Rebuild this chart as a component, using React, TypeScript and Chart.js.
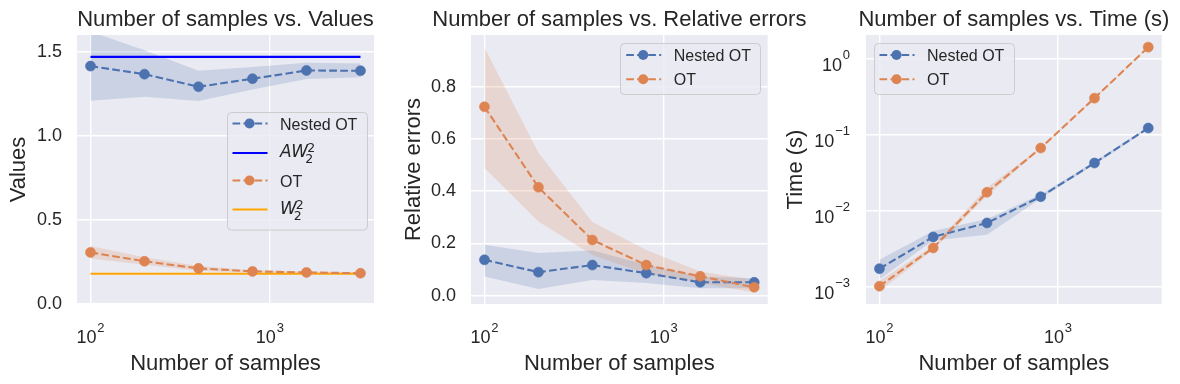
import React, { useEffect, useRef } from "react";
import { Chart, registerables } from "chart.js";

Chart.register(...registerables);

// ---------- data ----------
const SAMPLES = [100, 200, 400, 800, 1600, 3200];
const X_TICKS = [100, 1000];
const X_MIN = 84.1;
const X_MAX = 3806;

// Panel 1: values
const VAL_NESTED = [1.415, 1.367, 1.292, 1.34, 1.389, 1.387];
const VAL_NESTED_LO = [1.209, 1.233, 1.207, 1.276, 1.338, 1.348];
const VAL_NESTED_HI = [1.62, 1.51, 1.387, 1.41, 1.435, 1.43];
const VAL_AW = [1.47, 1.47, 1.47, 1.47, 1.47, 1.47];
const VAL_OT = [0.307, 0.254, 0.212, 0.194, 0.188, 0.183];
const VAL_OT_LO = [0.27, 0.234, 0.198, 0.188, 0.184, 0.18];
const VAL_OT_HI = [0.345, 0.278, 0.226, 0.201, 0.193, 0.187];
const VAL_W = [0.18, 0.18, 0.18, 0.18, 0.18, 0.18];

// Panel 2: relative errors
const ERR_NESTED = [0.137, 0.09, 0.117, 0.086, 0.051, 0.051];
const ERR_NESTED_LO = [0.073, 0.025, 0.06, 0.048, 0.028, 0.028];
const ERR_NESTED_HI = [0.195, 0.163, 0.173, 0.118, 0.073, 0.067];
const ERR_OT = [0.723, 0.415, 0.213, 0.117, 0.074, 0.032];
const ERR_OT_LO = [0.489, 0.284, 0.156, 0.084, 0.048, 0.012];
const ERR_OT_HI = [0.95, 0.547, 0.282, 0.175, 0.092, 0.06];

// Panel 3: time (s)
const TIME_NESTED = [0.00175, 0.00458, 0.007, 0.0155, 0.043, 0.124];
const TIME_NESTED_LO = [0.00127, 0.0041, 0.0049, 0.0147, 0.041, 0.12];
const TIME_NESTED_HI = [0.0023, 0.0055, 0.0079, 0.0165, 0.045, 0.128];
const TIME_OT = [0.00103, 0.00328, 0.0177, 0.0677, 0.307, 1.44];
const TIME_OT_LO = [0.00088, 0.0031, 0.0158, 0.066, 0.3, 1.42];
const TIME_OT_HI = [0.0012, 0.0035, 0.0203, 0.069, 0.314, 1.46];
const TIME_TICKS = [0.001, 0.01, 0.1, 1];

const TITLES = [
  "Number of samples vs. Values",
  "Number of samples vs. Relative errors",
  "Number of samples vs. Time (s)",
];
const Y_TITLES = ["Values", "Relative errors", "Time (s)"];
const X_TITLE = "Number of samples";
const NAME_NESTED = "Nested OT";
const NAME_OT = "OT";
const MATH_AW = { main: "AW", sub: "2", sup: "2" };
const MATH_W = { main: "W", sub: "2", sup: "2" };

// ---------- styles ----------
const FONT = '"Liberation Sans", Arial, sans-serif';
const MATH_FONT = '"DejaVu Sans", sans-serif';
const TEXT = "#262626";
const BG = "#EAEAF2";
const BLUE = "#4C72B0";
const ORANGE = "#DD8452";
const BLUE_BAND = "rgba(76,114,176,0.2)";
const ORANGE_BAND = "rgba(221,132,82,0.2)";
const PURE_BLUE = "#0000FF";
const REF_ORANGE = "#FFA500";
const LW = 2.1;
const DASH = [7.7, 3.3];
const MARKER_R = 5;
const LEG_W = 140;

const pts = (ys: number[]) => SAMPLES.map((x, i) => ({ x, y: ys[i] }));

function lineDs(label: string, ys: number[], color: string, dashed: boolean, marker: boolean) {
  return {
    label,
    data: pts(ys),
    borderColor: color,
    backgroundColor: color,
    borderWidth: LW,
    borderDash: dashed ? DASH : [],
    pointRadius: marker ? MARKER_R : 0,
    pointBackgroundColor: color,
    pointBorderColor: color,
    pointBorderWidth: 0.6,
    fill: false,
    tension: 0,
  };
}

function bandDs(hi: number[], lo: number[], color: string) {
  return [
    {
      label: "band-hi",
      data: pts(hi),
      borderColor: "rgba(0,0,0,0)",
      borderWidth: 0,
      pointRadius: 0,
      fill: "+1",
      backgroundColor: color,
      tension: 0,
    },
    {
      label: "band-lo",
      data: pts(lo),
      borderColor: "rgba(0,0,0,0)",
      borderWidth: 0,
      pointRadius: 0,
      fill: false,
      tension: 0,
    },
  ];
}

type LegendItem = {
  label?: string;
  math?: { main: string; sub: string; sup: string };
  color: string;
  dashed: boolean;
  marker: boolean;
  dy: number;
};

type Spec = {
  left: number;
  width: number;
  yAxisWidth: number;
  rightPad: number;
  title: string;
  yTitle: string;
  yTitleGap: number;
  yScale: any;
  yLogTicks?: number[];
  datasets: any[];
  legend: { anchor: "left" | "right"; top: number; height: number; items: LegendItem[] };
};

const gridOpts = { color: "#FFFFFF", lineWidth: 1.4, drawTicks: false };

function drawPow(ctx: CanvasRenderingContext2D, x: number, yBase: number, exp: number, align: "center" | "right") {
  const main = "10";
  const sup = exp < 0 ? "\u2212" + Math.abs(exp) : String(exp);
  ctx.font = `18px ${FONT}`;
  const wm = ctx.measureText(main).width;
  ctx.font = `13px ${FONT}`;
  const ws = ctx.measureText(sup).width;
  const total = wm + 0.8 + ws;
  const left = align === "center" ? x - total / 2 : x - total;
  ctx.textAlign = "left";
  ctx.font = `18px ${FONT}`;
  ctx.fillText(main, left, yBase);
  ctx.font = `13px ${FONT}`;
  ctx.fillText(sup, left + wm + 0.8, yBase - 11.2);
}

function drawLegend(ctx: CanvasRenderingContext2D, a: any, spec: Spec) {
  const lg = spec.legend;
  const bx = lg.anchor === "right" ? a.right - 7.5 - LEG_W : a.left + 7.5;
  const by = a.top + lg.top;
  const r = 4;
  ctx.save();
  ctx.beginPath();
  const x0 = Math.round(bx) + 0.5;
  const y0 = Math.round(by) + 0.5;
  const w = LEG_W;
  const h = lg.height;
  ctx.moveTo(x0 + r, y0);
  ctx.lineTo(x0 + w - r, y0);
  ctx.arcTo(x0 + w, y0, x0 + w, y0 + r, r);
  ctx.lineTo(x0 + w, y0 + h - r);
  ctx.arcTo(x0 + w, y0 + h, x0 + w - r, y0 + h, r);
  ctx.lineTo(x0 + r, y0 + h);
  ctx.arcTo(x0, y0 + h, x0, y0 + h - r, r);
  ctx.lineTo(x0, y0 + r);
  ctx.arcTo(x0, y0, x0 + r, y0, r);
  ctx.closePath();
  ctx.fillStyle = "rgba(234,234,242,0.8)";
  ctx.fill();
  ctx.strokeStyle = "#CCCCCC";
  ctx.lineWidth = 1;
  ctx.stroke();

  for (const it of lg.items) {
    const ry = by + it.dy;
    ctx.beginPath();
    ctx.setLineDash(it.dashed ? DASH : []);
    ctx.strokeStyle = it.color;
    ctx.lineWidth = LW;
    ctx.moveTo(bx + 6, ry);
    ctx.lineTo(bx + 41, ry);
    ctx.stroke();
    ctx.setLineDash([]);
    if (it.marker) {
      ctx.beginPath();
      ctx.fillStyle = it.color;
      ctx.arc(bx + 23, ry, MARKER_R, 0, Math.PI * 2);
      ctx.fill();
    }
    ctx.fillStyle = TEXT;
    ctx.textAlign = "left";
    ctx.textBaseline = "alphabetic";
    const tx = bx + 53.5;
    if (it.math) {
      ctx.font = `italic 17px ${MATH_FONT}`;
      ctx.fillText(it.math.main, tx, ry + 4);
      const wm = ctx.measureText(it.math.main).width;
      ctx.font = `12.5px ${MATH_FONT}`;
      ctx.fillText(it.math.sup, tx + wm - 1, ry - 0.8);
      ctx.fillText(it.math.sub, tx + wm - 3, ry + 10);
    } else if (it.label) {
      ctx.font = `16px ${FONT}`;
      ctx.fillText(it.label, tx, ry + 6);
    }
  }
  ctx.restore();
}

function decorPlugin(spec: Spec) {
  return {
    id: "panelDecor",
    beforeDraw(chart: any) {
      const { ctx, chartArea: a } = chart;
      ctx.save();
      ctx.fillStyle = BG;
      ctx.fillRect(a.left, a.top, a.right - a.left, a.bottom - a.top);
      ctx.restore();
    },
    afterDraw(chart: any) {
      const { ctx, chartArea: a } = chart;
      const xs = chart.scales.x;
      const ys = chart.scales.y;
      ctx.save();
      ctx.fillStyle = TEXT;
      ctx.textBaseline = "alphabetic";
      ctx.textAlign = "center";
      ctx.font = `22px ${FONT}`;
      const cx = (a.left + a.right) / 2;
      ctx.fillText(spec.title, cx, a.top - 9);
      ctx.fillText(X_TITLE, cx, a.bottom + 66);
      ctx.save();
      ctx.translate(a.left - spec.yTitleGap, (a.top + a.bottom) / 2);
      ctx.rotate(-Math.PI / 2);
      ctx.textAlign = "center";
      ctx.fillText(spec.yTitle, 0, 0);
      ctx.restore();
      for (const v of X_TICKS) {
        drawPow(ctx, xs.getPixelForValue(v), a.bottom + 39.3, Math.round(Math.log10(v)), "center");
      }
      if (spec.yLogTicks) {
        for (const v of spec.yLogTicks) {
          drawPow(ctx, a.left - 16, ys.getPixelForValue(v) + 11.5, Math.round(Math.log10(v)), "right");
        }
      }
      ctx.restore();
      drawLegend(ctx, a, spec);
    },
  };
}

function buildConfig(spec: Spec): any {
  return {
    type: "line",
    data: { datasets: spec.datasets },
    options: {
      animation: false,
      responsive: false,
      maintainAspectRatio: false,
      events: [],
      layout: { padding: { top: 35, right: spec.rightPad, bottom: 0, left: 0 } },
      plugins: {
        legend: { display: false },
        title: { display: false },
        tooltip: { enabled: false },
      },
      scales: {
        x: {
          type: "logarithmic",
          min: X_MIN,
          max: X_MAX,
          afterBuildTicks: (ax: any) => {
            ax.ticks = X_TICKS.map((v) => ({ value: v }));
          },
          afterFit: (ax: any) => {
            ax.height = 80;
          },
          ticks: { display: false },
          grid: gridOpts,
          border: { display: false },
        },
        y: {
          ...spec.yScale,
          afterFit: (ax: any) => {
            ax.width = spec.yAxisWidth;
          },
          grid: gridOpts,
          border: { display: false },
        },
      },
    },
    plugins: [decorPlugin(spec)],
  };
}

const linearTicks = (step: number) => ({
  stepSize: step,
  includeBounds: false,
  padding: 15,
  color: TEXT,
  font: { size: 18, family: FONT },
  callback: (v: any) => Number(v).toFixed(1),
});

const SPECS: Spec[] = [
  {
    left: 0,
    width: 390,
    yAxisWidth: 77,
    rightPad: 16,
    title: TITLES[0],
    yTitle: Y_TITLES[0],
    yTitleGap: 52,
    yScale: { type: "linear", min: 0, max: 1.6, ticks: linearTicks(0.5) },
    datasets: [
      lineDs(NAME_OT, VAL_OT, ORANGE, true, true),
      lineDs("W", VAL_W, REF_ORANGE, false, false),
      lineDs(NAME_NESTED, VAL_NESTED, BLUE, true, true),
      lineDs("AW", VAL_AW, PURE_BLUE, false, false),
      ...bandDs(VAL_OT_HI, VAL_OT_LO, ORANGE_BAND),
      ...bandDs(VAL_NESTED_HI, VAL_NESTED_LO, BLUE_BAND),
    ],
    legend: {
      anchor: "right",
      top: 76.7,
      height: 117.6,
      items: [
        { label: NAME_NESTED, color: BLUE, dashed: true, marker: true, dy: 11.8 },
        { math: MATH_AW, color: PURE_BLUE, dashed: false, marker: false, dy: 41.3 },
        { label: NAME_OT, color: ORANGE, dashed: true, marker: true, dy: 68.8 },
        { math: MATH_W, color: REF_ORANGE, dashed: false, marker: false, dy: 97.8 },
      ],
    },
  },
  {
    left: 392,
    width: 420,
    yAxisWidth: 79,
    rightPad: 44.3,
    title: TITLES[1],
    yTitle: Y_TITLES[1],
    yTitleGap: 51,
    yScale: { type: "linear", min: -0.032, max: 0.998, ticks: linearTicks(0.2) },
    datasets: [
      lineDs(NAME_OT, ERR_OT, ORANGE, true, true),
      lineDs(NAME_NESTED, ERR_NESTED, BLUE, true, true),
      ...bandDs(ERR_OT_HI, ERR_OT_LO, ORANGE_BAND),
      ...bandDs(ERR_NESTED_HI, ERR_NESTED_LO, BLUE_BAND),
    ],
    legend: {
      anchor: "right",
      top: 8.3,
      height: 51,
      items: [
        { label: NAME_NESTED, color: BLUE, dashed: true, marker: true, dy: 11.7 },
        { label: NAME_OT, color: ORANGE, dashed: true, marker: true, dy: 36 },
      ],
    },
  },
  {
    left: 786,
    width: 394,
    yAxisWidth: 80,
    rightPad: 18.3,
    title: TITLES[2],
    yTitle: Y_TITLES[2],
    yTitleGap: 64,
    yScale: {
      type: "logarithmic",
      min: 0.00061,
      max: 2.08,
      afterBuildTicks: (ax: any) => {
        ax.ticks = TIME_TICKS.map((v) => ({ value: v }));
      },
      ticks: { display: false },
    },
    yLogTicks: TIME_TICKS,
    datasets: [
      lineDs(NAME_OT, TIME_OT, ORANGE, true, true),
      lineDs(NAME_NESTED, TIME_NESTED, BLUE, true, true),
      ...bandDs(TIME_OT_HI, TIME_OT_LO, ORANGE_BAND),
      ...bandDs(TIME_NESTED_HI, TIME_NESTED_LO, BLUE_BAND),
    ],
    legend: {
      anchor: "left",
      top: 8.3,
      height: 51,
      items: [
        { label: NAME_NESTED, color: BLUE, dashed: true, marker: true, dy: 11.7 },
        { label: NAME_OT, color: ORANGE, dashed: true, marker: true, dy: 36 },
      ],
    },
  },
];

function Panel({ spec }: { spec: Spec }) {
  const ref = useRef<HTMLCanvasElement | null>(null);
  useEffect(() => {
    if (!ref.current) return;
    const chart = new Chart(ref.current, buildConfig(spec));
    return () => chart.destroy();
  }, [spec]);
  return (
    <canvas
      ref={ref}
      width={spec.width}
      height={384}
      style={{ position: "absolute", left: spec.left, top: 0, width: spec.width, height: 384 }}
    />
  );
}

export default function App() {
  return (
    <div style={{ position: "absolute", left: 0, top: 0, width: 1180, height: 384, background: "#FFFFFF" }}>
      {SPECS.map((s, i) => (
        <Panel key={i} spec={s} />
      ))}
    </div>
  );
}
